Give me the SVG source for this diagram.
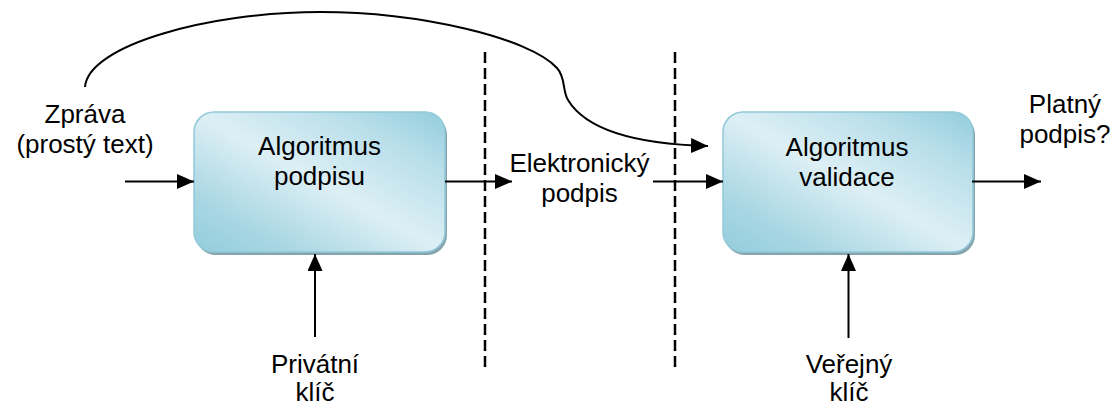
<svg xmlns="http://www.w3.org/2000/svg" width="1114" height="407" viewBox="0 0 1114 407">
<defs>
<linearGradient id="g" x1="0" y1="1" x2="1" y2="0">
<stop offset="0" stop-color="#93CDDD"/>
<stop offset="0.2" stop-color="#A9D7E3"/>
<stop offset="0.5" stop-color="#DDEFF5"/>
<stop offset="0.78" stop-color="#B9DFEA"/>
<stop offset="1" stop-color="#93CDDD"/>
</linearGradient>
<marker id="ah" markerUnits="userSpaceOnUse" markerWidth="18" markerHeight="16" refX="17" refY="7.5" orient="auto">
<path d="M0,0 L17,7.5 L0,15 z" fill="#000"/>
</marker>
<style>
text{font-family:"Liberation Sans",Arial,sans-serif;font-size:26px;fill:#000;text-anchor:middle}
.box{fill:url(#g);stroke:#92C9D9;stroke-width:1.5}
.shadow{fill:#86A4AE}
.conn{stroke:#000;stroke-width:2;fill:none}
.dash{stroke:#000;stroke-width:2.5;fill:none;stroke-dasharray:11 5}
</style>
</defs>
<g id="divider1"><line class="dash" x1="485" y1="52" x2="485" y2="370"/></g>
<g id="divider2"><line class="dash" x1="675" y1="52" x2="675" y2="370"/></g>
<g id="sign">
<rect class="shadow" x="196" y="115" width="251" height="140" rx="20"/>
<rect class="box" x="194" y="112" width="251" height="140" rx="20"/>
<text x="319.5" y="155">Algoritmus</text>
<text x="319.5" y="185">podpisu</text>
</g>
<g id="validate">
<rect class="shadow" x="725" y="115" width="250" height="140" rx="20"/>
<rect class="box" x="723" y="112" width="250" height="140" rx="20"/>
<text x="847" y="156">Algoritmus</text>
<text x="847" y="186">validace</text>
</g>
<g id="message"><text x="85" y="123">Zpráva</text><text x="85" y="153">(prostý text)</text></g>
<g id="signature"><text x="579.5" y="172">Elektronický</text><text x="579.5" y="202">podpis</text></g>
<g id="valid"><text x="1065" y="113">Platný</text><text x="1065" y="143">podpis?</text></g>
<g id="privkey"><text x="315" y="373">Privátní</text><text x="315" y="401">klíč</text></g>
<g id="pubkey"><text x="849" y="373">Veřejný</text><text x="849" y="401">klíč</text></g>
<g id="connectors">
<line class="conn" x1="125" y1="181.5" x2="194" y2="181.5" marker-end="url(#ah)"/>
<line class="conn" x1="445" y1="181.5" x2="512" y2="181.5" marker-end="url(#ah)"/>
<line class="conn" x1="653" y1="181.5" x2="723" y2="181.5" marker-end="url(#ah)"/>
<line class="conn" x1="972" y1="181.5" x2="1041" y2="181.5" marker-end="url(#ah)"/>
<line class="conn" x1="315" y1="337" x2="315" y2="254" marker-end="url(#ah)"/>
<line class="conn" x1="848.5" y1="338" x2="848.5" y2="254" marker-end="url(#ah)"/>
<path class="conn" stroke-width="3" d="M85,87 C88,45 210,12 320,12 C420,12 530,38 557,68 C566,78 562,90 568,100 C585,128 630,144 708,146" marker-end="url(#ah)"/>
</g>
</svg>
